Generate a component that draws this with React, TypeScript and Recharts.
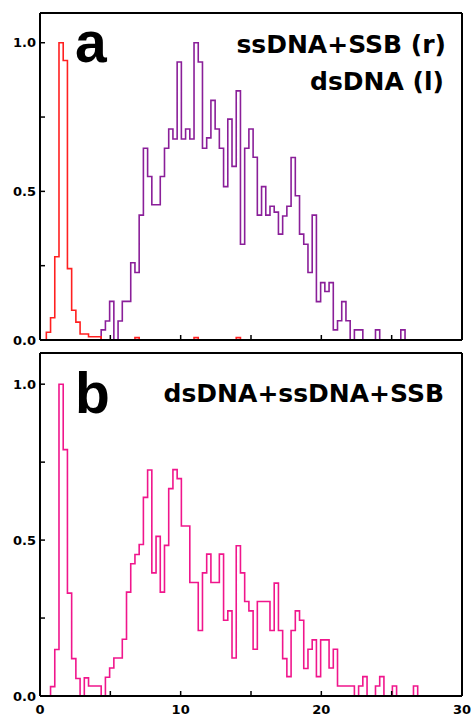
import React from 'react';
import { LineChart, Line, XAxis, YAxis } from 'recharts';

const BIN_WIDTH = 0.3;

const ssDnaSsbRed: number[] = [
  0, 0, 0.026, 0.075, 0.28, 1.0, 0.94, 0.24, 0.10, 0.06,
  0.02, 0.02, 0.011, 0.011, 0.011, 0, 0, 0, 0, 0,
  0, 0, 0, 0.008, 0, 0, 0, 0, 0, 0,
  0, 0, 0, 0, 0, 0, 0, 0.008, 0, 0,
  0, 0, 0, 0, 0, 0, 0, 0.008, 0, 0,
  0, 0, 0, 0, 0, 0, 0, 0, 0, 0,
  0, 0, 0, 0, 0, 0, 0, 0, 0, 0,
  0, 0, 0, 0, 0, 0, 0, 0, 0, 0,
  0, 0, 0, 0, 0, 0, 0, 0, 0, 0,
  0, 0, 0, 0, 0, 0, 0, 0, 0, 0,
  0,
];

const dsDnaPurple: number[] = [
  0, 0, 0, 0, 0, 0, 0, 0, 0, 0,
  0, 0, 0, 0, 0, 0.034, 0.064, 0.13, 0, 0.064,
  0.13, 0.13, 0.26, 0.227, 0.42, 0.645, 0.55, 0.455, 0.455, 0.55,
  0.645, 0.71, 0.676, 0.935, 0.676, 0.71, 0.676, 1.0, 0.935, 0.645,
  0.68, 0.806, 0.71, 0.645, 0.516, 0.743, 0.584, 0.838, 0.322, 0.645,
  0.71, 0.615, 0.42, 0.516, 0.42, 0.45, 0.43, 0.356, 0.417, 0.45,
  0.614, 0.485, 0.356, 0.322, 0.227, 0.42, 0.129, 0.193, 0.163, 0.193,
  0.034, 0.065, 0.129, 0.065, 0, 0.034, 0.034, 0, 0, 0,
  0.034, 0, 0, 0, 0, 0, 0.034, 0, 0, 0,
  0, 0, 0, 0, 0, 0, 0, 0, 0, 0,
  0,
];

const mixPink: number[] = [
  0, 0, 0, 0.03, 0.149, 1.0, 0.79, 0.33, 0.12, 0.056,
  0, 0.058, 0.032, 0.032, 0.032, 0, 0.06, 0.09, 0.122, 0.122,
  0.182, 0.333, 0.424, 0.454, 0.486, 0.637, 0.725, 0.395, 0.512, 0.333,
  0.483, 0.665, 0.726, 0.697, 0.545, 0.545, 0.364, 0.364, 0.21, 0.395,
  0.455, 0.364, 0.364, 0.455, 0.243, 0.273, 0.122, 0.482, 0.395, 0.303,
  0.273, 0.15, 0.303, 0.303, 0.303, 0.21, 0.362, 0.21, 0.12, 0.062,
  0.21, 0.273, 0.243, 0.088, 0.15, 0.18, 0.062, 0.18, 0.18, 0.09,
  0.15, 0.032, 0.032, 0.032, 0.032, 0, 0.032, 0.062, 0, 0,
  0.032, 0.062, 0, 0, 0.032, 0, 0, 0, 0, 0.032,
  0, 0, 0, 0, 0, 0, 0, 0, 0, 0,
  0,
];

const xTicks = [0, 5, 10, 15, 20, 25, 30];
const xTickLabels: Record<number, string> = { 0: '0', 10: '10', 20: '20', 30: '30' };
const yTicks = [0, 0.25, 0.5, 0.75, 1.0];
const yTickLabels: Record<number, string> = { 0: '0.0', 0.5: '0.5', 1: '1.0' };

const dataA = ssDnaSsbRed.map((r, i) => ({ x: i * BIN_WIDTH, red: r, purple: dsDnaPurple[i] }));
const dataB = mixPink.map((p, i) => ({ x: i * BIN_WIDTH, pink: p }));

const TICK_FONT = { fontFamily: 'DejaVu Sans', fontWeight: 700, fontSize: 13, fill: '#000' };
const axisLine = { stroke: '#000', strokeWidth: 2 };
const tickLine = { stroke: '#000', strokeWidth: 1.5 };

function Axes({ topH, bottomH, showX }: { topH: number; bottomH: number; showX: boolean }) {
  return null;
}

function renderAxes(topH: number, bottomH: number, showX: boolean) {
  return [
    <XAxis key="xb" xAxisId={0} dataKey="x" type="number" domain={[0, 30]} ticks={xTicks}
      allowDataOverflow height={bottomH} axisLine={axisLine} tickLine={tickLine}
      tickSize={-5} tickMargin={14} tick={TICK_FONT}
      tickFormatter={(v: number) => (showX ? xTickLabels[v] ?? '' : '')} interval={0} />,
    <XAxis key="xt" xAxisId="top" orientation="top" dataKey="x" type="number" domain={[0, 30]}
      ticks={xTicks} allowDataOverflow height={topH} axisLine={axisLine} tickLine={tickLine}
      tickSize={-5} tick={false} interval={0} />,
    <YAxis key="yl" yAxisId={0} type="number" domain={[0, 1.1]} ticks={yTicks} allowDataOverflow
      width={40} axisLine={axisLine} tickLine={tickLine} tickSize={-5} tickMargin={9}
      tick={TICK_FONT} tickFormatter={(v: number) => yTickLabels[v] ?? ''} interval={0} />,
    <YAxis key="yr" yAxisId="right" orientation="right" type="number" domain={[0, 1.1]}
      ticks={yTicks} allowDataOverflow width={9} axisLine={axisLine} tickLine={tickLine}
      tickSize={-5} tick={false} interval={0} />,
  ];
}

export default function App() {
  return (
    <div style={{ position: 'absolute', left: 0, top: 0, width: 471, height: 717, background: '#fff' }}>
      <div style={{ position: 'absolute', left: 0, top: 0 }}>
        <LineChart width={471} height={347} data={dataA} margin={{ top: 0, right: 0, bottom: 0, left: 0 }}>
          {renderAxes(13, 7, false)}
          <Line type="step" dataKey="purple" stroke="#8a1f99" strokeWidth={1.6} dot={false}
            isAnimationActive={false} xAxisId={0} yAxisId={0} />
          <Line type="step" dataKey="red" stroke="#ff2020" strokeWidth={1.6} dot={false}
            isAnimationActive={false} xAxisId={0} yAxisId={0} />
        </LineChart>
      </div>
      <div style={{ position: 'absolute', left: 0, top: 347 }}>
        <LineChart width={471} height={370} data={dataB} margin={{ top: 0, right: 0, bottom: 0, left: 0 }}>
          {renderAxes(6, 21, true)}
          <Line type="step" dataKey="pink" stroke="#f0168c" strokeWidth={1.6} dot={false}
            isAnimationActive={false} xAxisId={0} yAxisId={0} />
        </LineChart>
      </div>
      <svg width={471} height={717} style={{ position: 'absolute', left: 0, top: 0, pointerEvents: 'none' }}>
        <text x={75} y={62} fontFamily="Liberation Sans" fontWeight={700} fontSize={57} fill="#000">a</text>
        <text x={446} y={53} textAnchor="end" fontFamily="DejaVu Sans" fontWeight={700} fontSize={25} fill="#000">ssDNA+SSB (r)</text>
        <text x={444} y={90} textAnchor="end" fontFamily="DejaVu Sans" fontWeight={700} fontSize={25} fill="#000">dsDNA (l)</text>
        <text x={75} y={413} fontFamily="Liberation Sans" fontWeight={700} fontSize={57} fill="#000">b</text>
        <text x={444} y={402} textAnchor="end" fontFamily="DejaVu Sans" fontWeight={700} fontSize={25} fill="#000">dsDNA+ssDNA+SSB</text>
      </svg>
    </div>
  );
}
